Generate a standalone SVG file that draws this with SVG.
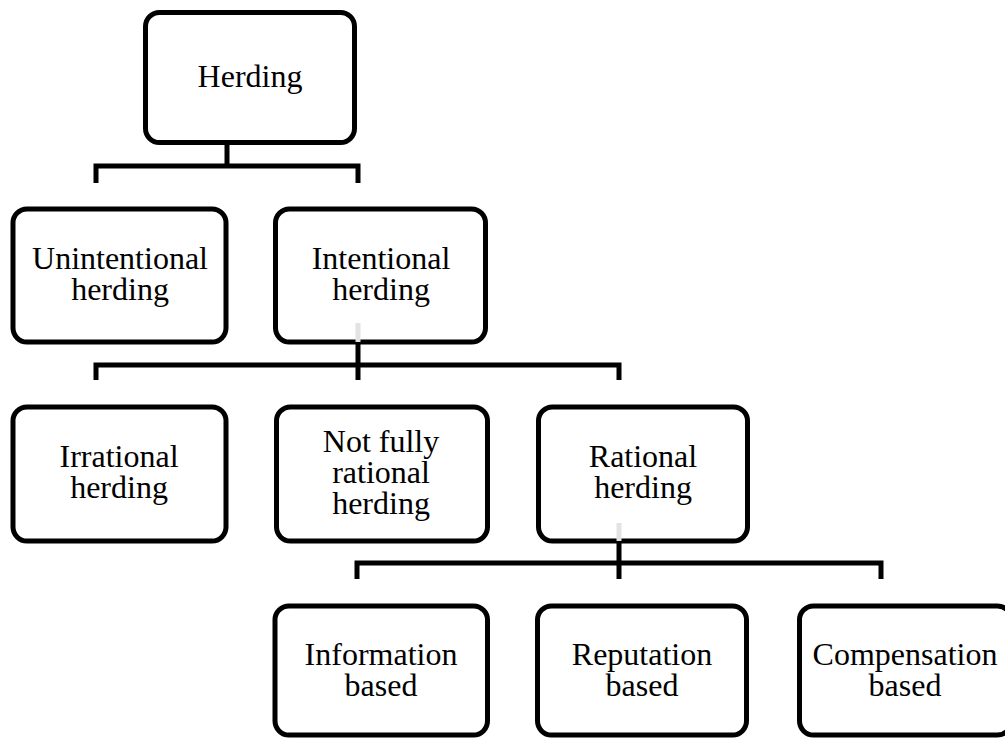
<svg xmlns="http://www.w3.org/2000/svg" width="1005" height="740" viewBox="0 0 1005 740">
<style>
.box{fill:#ffffff;stroke:#000000;stroke-width:5}
.ln{fill:none;stroke:#000000;stroke-width:5;stroke-linejoin:miter;stroke-linecap:butt}
.gl{fill:none;stroke:#e3e3e3;stroke-width:5}
text{font-family:"Liberation Serif","Times New Roman",serif;font-size:32px;fill:#000000;text-anchor:middle}
</style>
<rect x="0" y="0" width="1005" height="740" fill="#ffffff"/>
<g id="n-herding">
<rect class="box" x="145.5" y="12.5" width="209" height="130" rx="14"/>
<text x="250" y="87">Herding</text>
</g>
<g id="n-unintentional">
<rect class="box" x="13" y="209" width="213" height="133" rx="14"/>
<text x="120" y="269">Unintentional</text>
<text x="120" y="300">herding</text>
</g>
<g id="n-intentional">
<rect class="box" x="275.5" y="209" width="210" height="133" rx="14"/>
<text x="381" y="269">Intentional</text>
<text x="381" y="300">herding</text>
</g>
<g id="n-irrational">
<rect class="box" x="13" y="407" width="213" height="134" rx="14"/>
<text x="119" y="467">Irrational</text>
<text x="119" y="498">herding</text>
</g>
<g id="n-notfully">
<rect class="box" x="276.5" y="407" width="211" height="134" rx="14"/>
<text x="381" y="452">Not fully</text>
<text x="381" y="483">rational</text>
<text x="381" y="514">herding</text>
</g>
<g id="n-rational">
<rect class="box" x="538.5" y="407" width="209" height="134" rx="14"/>
<text x="643" y="467">Rational</text>
<text x="643" y="498">herding</text>
</g>
<g id="n-information">
<rect class="box" x="275" y="606" width="212.5" height="129" rx="14"/>
<text x="381" y="665">Information</text>
<text x="381" y="696">based</text>
</g>
<g id="n-reputation">
<rect class="box" x="537.5" y="606" width="209" height="129" rx="14"/>
<text x="642" y="665">Reputation</text>
<text x="642" y="696">based</text>
</g>
<g id="n-compensation">
<rect class="box" x="799.5" y="606" width="212" height="129" rx="14"/>
<text x="905" y="665">Compensation</text>
<text x="905" y="696">based</text>
</g>
<g id="connectors">
<path class="ln" d="M227,145 V166 M96,183 V166 H358 V183"/>
<path class="gl" d="M358,323 V342"/>
<path class="ln" d="M358,344 V380 M96,380 V365 H619 V380"/>
<path class="gl" d="M619,523 V541"/>
<path class="ln" d="M619,543 V579 M357,579 V563 H881 V579"/>
</g>
</svg>
